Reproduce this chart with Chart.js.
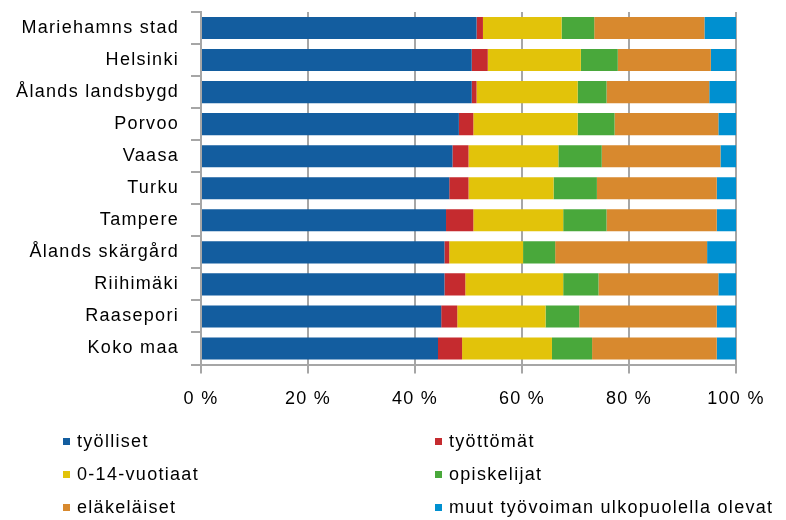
<!DOCTYPE html>
<html>
<head>
<meta charset="utf-8">
<script src="https://cdn.jsdelivr.net/npm/chart.js@4/dist/chart.umd.min.js"></script>
<style>
  html, body { margin: 0; padding: 0; background: #fff; }
  #wrap { position: relative; width: 786px; height: 520px; }
  #c { position: absolute; left: 0; top: 0; }
  .lg { position: absolute; font-family: "Liberation Sans", Arial, sans-serif; font-size: 18px; letter-spacing: 1.3px; color: #000; white-space: nowrap; line-height: 20px; }
  .lg i { position: absolute; width: 7px; height: 7px; top: 7px; }
</style>
</head>
<body>
<div id="wrap">
  <canvas id="c" width="786" height="520"></canvas>
</div>
<script>
const categories = ["Mariehamns stad", "Helsinki", "Ålands landsbygd", "Porvoo", "Vaasa", "Turku", "Tampere", "Ålands skärgård", "Riihimäki", "Raasepori", "Koko maa"];
const seriesNames = ["työlliset", "työttömät", "0-14-vuotiaat", "opiskelijat", "eläkeläiset", "muut työvoiman ulkopuolella olevat"];
const tyolliset   = [51.5, 50.6, 50.6, 48.2, 47.0, 46.4, 45.8, 45.5, 45.5, 44.9, 44.3];
const tyottomat   = [1.2, 3.0, 0.9, 2.7, 3.0, 3.6, 5.1, 0.9, 3.9, 3.0, 4.5];
const lapset      = [14.7, 17.4, 18.9, 19.5, 16.8, 15.9, 16.8, 13.8, 18.3, 16.5, 16.8];
const opiskelijat = [6.1, 6.9, 5.4, 6.9, 8.1, 8.1, 8.1, 6.0, 6.6, 6.3, 7.5];
const elakelaiset = [20.6, 17.4, 19.2, 19.4, 22.2, 22.4, 20.6, 28.4, 22.4, 25.7, 23.3];
const muut        = [5.9, 4.7, 5.0, 3.3, 2.9, 3.6, 3.6, 5.4, 3.3, 3.6, 3.6];
const xTicks = [0, 20, 40, 60, 80, 100];

const colors = ["#135D9F", "#C52B2F", "#E2C30A", "#49A83B", "#D8892E", "#0090D0"];
const seriesData = [tyolliset, tyottomat, lapset, opiskelijat, elakelaiset, muut];

const font = { family: "'Liberation Sans', Arial, sans-serif", size: 18 };

const spacingPlugin = {
  id: 'spacing',
  beforeUpdate(chart) { chart.ctx.letterSpacing = '1.3px'; },
  beforeDraw(chart) { chart.ctx.letterSpacing = '1.3px'; }
};

new Chart(document.getElementById('c'), {
  type: 'bar',
  data: {
    labels: categories,
    datasets: seriesData.map((d, i) => ({
      label: seriesNames[i],
      data: d,
      backgroundColor: colors[i],
      borderWidth: 0,
      barPercentage: 0.69,
      categoryPercentage: 1.0
    }))
  },
  options: {
    indexAxis: 'y',
    responsive: false,
    animation: false,
    layout: { padding: { top: 12, right: 50, bottom: 110, left: 0 } },
    plugins: { legend: { display: false }, tooltip: { enabled: false } },
    scales: {
      x: {
        stacked: true,
        min: 0, max: 100,
        afterBuildTicks(scale) { scale.ticks = xTicks.map(v => ({ value: v })); },
        ticks: { font: font, color: '#000', padding: 15, callback: v => v + ' %' },
        grid: { color: '#A6A6A6', lineWidth: 2, tickLength: 9, drawOnChartArea: true },
        border: { color: '#A6A6A6', width: 2 },
        afterFit(scale) { scale.height = 45.5; scale.paddingLeft = 0; scale.paddingRight = 0; }
      },
      y: {
        stacked: true,
        ticks: { font: font, color: '#000', padding: 12 },
        grid: { color: '#A6A6A6', lineWidth: 2, tickLength: 10, drawOnChartArea: false },
        border: { color: '#A6A6A6', width: 2 },
        afterFit(scale) { scale.width = 201; scale.paddingTop = 0; scale.paddingBottom = 0; }
      }
    }
  },
  plugins: [spacingPlugin]
});

// HTML legend built from series names and colours
const legendPos = [
  { x: 63, y: 431 }, { x: 435, y: 431 },
  { x: 63, y: 464 }, { x: 435, y: 464 },
  { x: 63, y: 497 }, { x: 435, y: 497 }
];
const wrap = document.getElementById('wrap');
seriesNames.forEach((name, i) => {
  const d = document.createElement('div');
  d.className = 'lg';
  d.style.left = legendPos[i].x + 'px';
  d.style.top = legendPos[i].y + 'px';
  d.style.paddingLeft = '14px';
  const b = document.createElement('i');
  b.style.left = '0px';
  b.style.background = colors[i];
  d.appendChild(b);
  d.appendChild(document.createTextNode(name));
  wrap.appendChild(d);
});
</script>
</body>
</html>
